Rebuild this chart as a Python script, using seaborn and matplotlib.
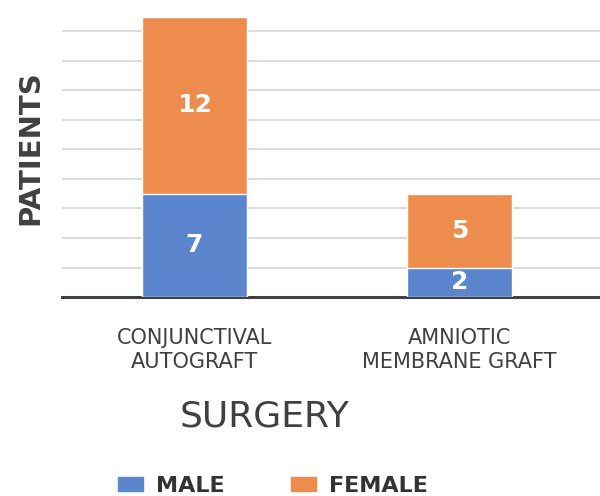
import matplotlib
matplotlib.use("Agg")
import pandas as pd
import seaborn as sns
from matplotlib import pyplot as plt
from matplotlib.patches import Patch

# data
surgery = ['CONJUNCTIVAL\nAUTOGRAFT', 'AMNIOTIC\nMEMBRANE GRAFT']
male = [7, 2]
female = [12, 5]

blue = '#5b85cd'
orange = '#ee8c4e'
grey_txt = '#404040'

df = pd.DataFrame({'surgery': surgery, 'male': male, 'female': female})
df['total'] = df['male'] + df['female']

sns.set_style('white')
plt.rcParams['font.family'] = ['DejaVu Sans']

fig = plt.figure(figsize=(6, 4.96), dpi=100)
ax = fig.add_axes([0.103, 0.401, 0.897, 0.591])

# stacked bars: total (female on top) then male at the bottom
sns.barplot(data=df, x='surgery', y='total', color=orange, width=0.396,
            saturation=1, ax=ax, zorder=2)
sns.barplot(data=df, x='surgery', y='male', color=blue, width=0.396,
            saturation=1, ax=ax, zorder=3)

for i, row in df.iterrows():
    ax.text(i, row['male'] / 2, str(row['male']), ha='center', va='center',
            color='white', fontsize=18, fontweight='bold', zorder=4)
    ax.text(i, row['male'] + row['female'] / 2, str(row['female']), ha='center',
            va='center', color='white', fontsize=18, fontweight='bold', zorder=4)

ax.set_xlim(-0.5, 1.53)
ax.set_ylim(0, 19.85)
ax.set_yticks(range(0, 20, 2))
ax.yaxis.grid(True, color='#d6d6d6', linewidth=1.2, zorder=0)
ax.set_axisbelow(True)
ax.tick_params(axis='y', left=False, labelleft=False)
ax.tick_params(axis='x', bottom=False, labelsize=15, labelcolor=grey_txt, pad=19)
for lbl in ax.get_xticklabels():
    lbl.set_linespacing(1.25)

for s in ['top', 'right', 'left']:
    ax.spines[s].set_visible(False)
ax.spines['bottom'].set_color(grey_txt)
ax.spines['bottom'].set_linewidth(2.2)

ax.set_ylabel('PATIENTS', fontsize=21, fontweight='bold', color=grey_txt)
ax.yaxis.set_label_coords(-0.032, 0.51)
ax.set_xlabel('SURGERY', fontsize=26, color=grey_txt)
ax.xaxis.set_label_coords(0.377, -0.35)

handles = [Patch(color=blue, label='MALE'), Patch(color=orange, label='FEMALE')]
fig.legend(handles=handles, loc='center', bbox_to_anchor=(0.455, 0.02), ncol=2,
           frameon=False, handlelength=1.1, handleheight=0.6, columnspacing=3,
           handletextpad=0.6, prop={'size': 16, 'weight': 'bold'},
           labelcolor='#333333')

fig.savefig('out.png', dpi=100)
